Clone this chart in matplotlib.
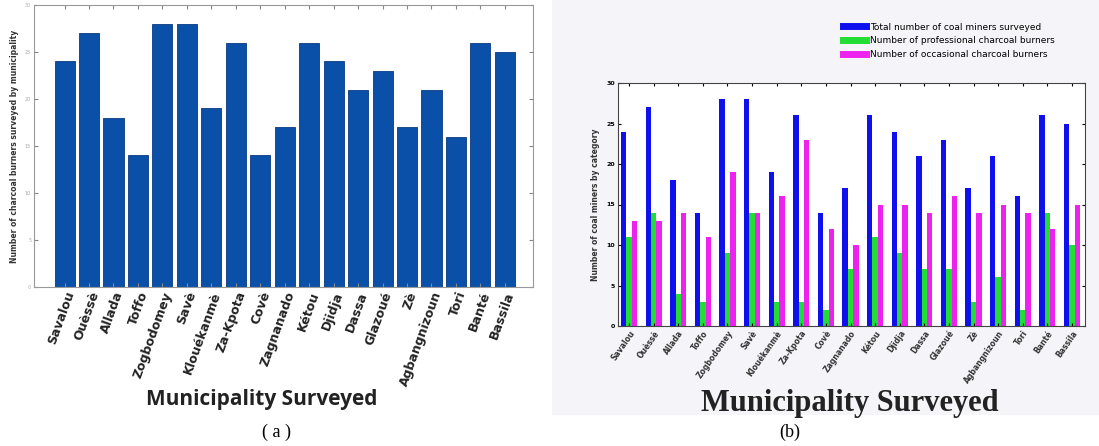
import numpy as np
import matplotlib
matplotlib.use("Agg")
import matplotlib.pyplot as plt
from matplotlib.lines import Line2D
from matplotlib.patches import Rectangle

# Donnees - communes enquetees
communes = ['Savalou', 'Ouèssè', 'Allada', 'Toffo', 'Zogbodomey', 'Savè',
            'Klouékanmè', 'Za-Kpota', 'Covè', 'Zagnanado', 'Kétou', 'Djidja',
            'Dassa', 'Glazoué', 'Zè', 'Agbangnizoun', 'Tori', 'Banté', 'Bassila']
total = [24, 27, 18, 14, 28, 28, 19, 26, 14, 17, 26, 24, 21, 23, 17, 21, 16, 26, 25]
professionnels = [11, 14, 4, 3, 9, 14, 3, 3, 2, 7, 11, 9, 7, 7, 3, 6, 2, 14, 10]
occasionnels = [13, 13, 14, 11, 19, 14, 16, 23, 12, 10, 15, 15, 14, 16, 14, 15, 14, 12, 15]
yticks = [0, 5, 10, 15, 20, 25, 30]

W, H = 1099, 446
fig = plt.figure(figsize=(W/100, H/100), dpi=100)

def rect(l, r, t, b):
    return [l/W, (H-b)/H, (r-l)/W, (b-t)/H]

# fond gris du panneau (b)
fig.patches.append(Rectangle((552/W, 31/H), 1-552/W, 1-31/H, transform=fig.transFigure,
                             facecolor='#f4f4f9', edgecolor='none', zorder=-5))

x = np.arange(len(communes))

#----- Panneau (a)
ax1 = fig.add_axes(rect(34, 533, 5, 287))
ax1.bar(x, total, width=0.82, color='#0b50a8', edgecolor='#083a80', linewidth=0.6)
ax1.set_xlim(-1.25, 19.15)
ax1.set_ylim(0, 30)
ax1.set_yticks(yticks)
ax1.set_yticklabels([str(v) for v in yticks], fontsize=3.5, color='#aaaaaa')
ax1.set_xticks(x)
ax1.set_xticklabels(communes, rotation=70, ha='right', rotation_mode='anchor',
                    fontsize=9, fontweight='bold', color='#222222')
ax1.tick_params(direction='in', top=True, right=True, length=3, color='#888888', pad=2)
for s in ax1.spines.values():
    s.set_color('#999999')
ax1.set_ylabel('Number of charcoal burners surveyed by municipality', fontsize=5.5,
               fontweight='bold', color='#333333', labelpad=4)
fig.text(262/W, 1-400/H, 'Municipality Surveyed', ha='center', va='center',
         fontsize=15, fontweight='bold', color='#222222', family='Open Sans')
fig.text(276/W, 1-432/H, '( a )', ha='center', va='center', fontsize=13,
         family='Liberation Serif')

#----- Panneau (b)
ax2 = fig.add_axes(rect(618, 1085, 83, 326))
ax2.set_facecolor('white')
bw = 0.22
ax2.bar(x - bw, total, width=bw, color='#1010ee')
ax2.bar(x, professionnels, width=bw, color='#22dd33')
ax2.bar(x + bw, occasionnels, width=bw, color='#ee22ee')
ax2.set_xlim(-0.45, 18.53)
ax2.set_ylim(0, 30)
ax2.set_yticks(yticks)
ax2.set_yticklabels([str(v) for v in yticks], fontsize=4.5, fontweight='bold')
ax2.set_xticks(x)
ax2.set_xticklabels(communes, rotation=55, ha='right', rotation_mode='anchor',
                    fontsize=5.5, fontweight='bold', color='#333333')
ax2.tick_params(direction='in', top=True, right=True, length=2.5, pad=2)
for s in ax2.spines.values():
    s.set_color('#444444')
ax2.set_ylabel('Number of coal miners by category', fontsize=5.5, fontweight='bold',
               color='#333333', labelpad=5)
fig.text(850/W, 1-404/H, 'Municipality Surveyed', ha='center', va='center',
         fontsize=22, fontweight='bold', color='#222222', family='Liberation Serif')
fig.text(790/W, 1-432/H, '(b)', ha='center', va='center', fontsize=13,
         family='Liberation Serif')

poignees = [Line2D([0], [0], color='#1010ee', lw=5),
            Line2D([0], [0], color='#22dd33', lw=5),
            Line2D([0], [0], color='#ee22ee', lw=5)]
fig.legend(poignees, ['Total number of coal miners surveyed',
                      'Number of professional charcoal burners',
                      'Number of occasional charcoal burners'],
           loc='upper left', bbox_to_anchor=(838/W, 1-18/H), frameon=False,
           fontsize=6.5, handlelength=2.6, labelspacing=0.55, handletextpad=0.5,
           borderpad=0)

fig.savefig('out.png', dpi=100)
